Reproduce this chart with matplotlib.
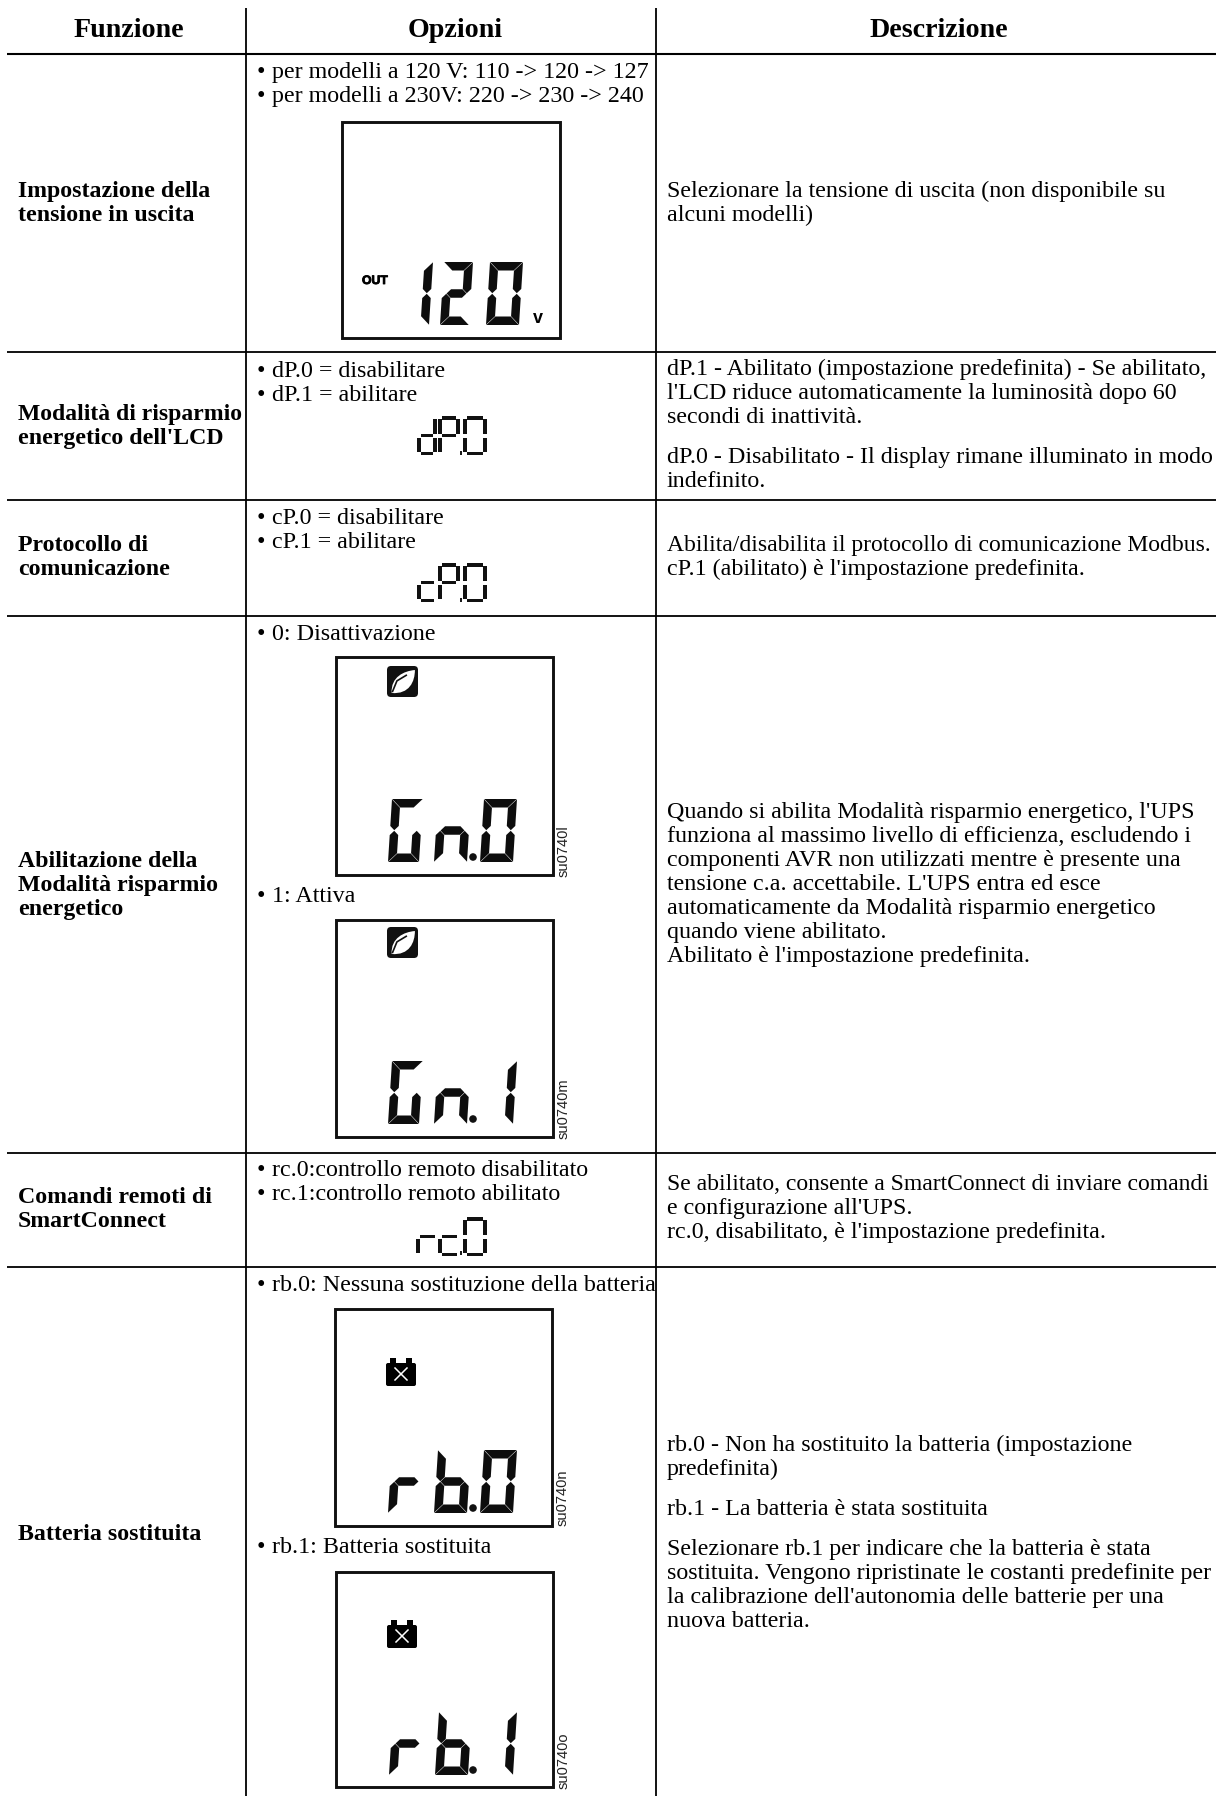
import matplotlib
matplotlib.use('Agg')
import matplotlib.pyplot as plt
import matplotlib.patheffects as pe
from matplotlib.patches import Polygon, Rectangle, FancyBboxPatch, PathPatch, Circle
from matplotlib.path import Path

# Table text
headers = ['Funzione', 'Opzioni', 'Descrizione']
funzione = ['Impostazione della', 'tensione in uscita',
            'Modalità di risparmio', "energetico dell'LCD",
            'Protocollo di', 'comunicazione',
            'Abilitazione della', 'Modalità risparmio', 'energetico',
            'Comandi remoti di', 'SmartConnect',
            'Batteria sostituita']
opzioni = ['per modelli a 120 V: 110 -> 120 -> 127',
           'per modelli a 230V: 220 -> 230 -> 240',
           'dP.0 = disabilitare', 'dP.1 = abilitare',
           'cP.0 = disabilitare', 'cP.1 = abilitare',
           '0: Disattivazione', '1: Attiva',
           'rc.0:controllo remoto disabilitato', 'rc.1:controllo remoto abilitato',
           'rb.0: Nessuna sostituzione della batteria', 'rb.1: Batteria sostituita']
descrizione = ['Selezionare la tensione di uscita (non disponibile su', 'alcuni modelli)',
               'dP.1 - Abilitato (impostazione predefinita) - Se abilitato,',
               "l'LCD riduce automaticamente la luminosità dopo 60",
               'secondi di inattività.',
               'dP.0 - Disabilitato - Il display rimane illuminato in modo',
               'indefinito.',
               'Abilita/disabilita il protocollo di comunicazione Modbus.',
               "cP.1 (abilitato) è l'impostazione predefinita.",
               "Quando si abilita Modalità risparmio energetico, l'UPS",
               'funziona al massimo livello di efficienza, escludendo i',
               'componenti AVR non utilizzati mentre è presente una',
               'tensione c.a. accettabile. L\'UPS entra ed esce',
               'automaticamente da Modalità risparmio energetico',
               'quando viene abilitato.',
               "Abilitato è l'impostazione predefinita.",
               'Se abilitato, consente a SmartConnect di inviare comandi',
               'e configurazione all\'UPS.',
               "rc.0, disabilitato, è l'impostazione predefinita.",
               'rb.0 - Non ha sostituito la batteria (impostazione',
               'predefinita)',
               'rb.1 - La batteria è stata sostituita',
               'Selezionare rb.1 per indicare che la batteria è stata',
               'sostituita. Vengono ripristinate le costanti predefinite per',
               "la calibrazione dell'autonomia delle batterie per una",
               'nuova batteria.']
codes = ['su0740l', 'su0740m', 'su0740n', 'su0740o']

# Baselines of the text, pixels
funzione_y = [197, 221, 420, 444, 551, 575, 867, 891, 915, 1203, 1227, 1540]
opzioni_y = [78, 102, 377, 401, 524, 548, 640, 902, 1176, 1200, 1291, 1553]
descrizione_y = [197, 221, 375, 399, 423, 463, 487, 551, 575, 818, 842, 866, 890, 914, 938, 962,
                 1190, 1214, 1238, 1451, 1475, 1515, 1555, 1579, 1603, 1627]
hlines = [54, 352, 500, 616, 1153, 1267]

W, H = 1223, 1796
fig = plt.figure(figsize=(W/100, H/100), dpi=100)
ax = fig.add_axes([0, 0, 1, 1])
ax.set_xlim(0, W)
ax.set_ylim(H, 0)
ax.axis('off')
FS = 17.25
SERIF = 'Liberation Serif'
# lines that are set a little tighter in the original
narrow = {'Modalità di risparmio': 17.0,
          'Abilita/disabilita il protocollo di comunicazione Modbus.': 17.03,
          'Se abilitato, consente a SmartConnect di inviare comandi': 17.03}

# Seven segment patterns
PATTERN = {'0': 'abcdef', '1': 'bc', '2': 'abged', 'G': 'afedc', 'n': 'gec', 'r': 'eg', 'b': 'fedcg',
           'd': 'bcdeg', 'P': 'abefg', 'c': 'deg'}


def seg_shape(s, w, h, t, g):
    m = h/2
    if s == 'a':
        return [(g, 0), (w-g, 0), (w-t-g, t), (t+g, t)]
    if s == 'd':
        return [(g, h), (w-g, h), (w-t-g, h-t), (t+g, h-t)]
    if s == 'g':
        return [(t/2+g, m), (t+g, m-t/2), (w-t-g, m-t/2), (w-t/2-g, m), (w-t-g, m+t/2), (t+g, m+t/2)]
    if s == 'f':
        return [(0, g), (t, t+g), (t, m-t/2-g), (t/2, m-g), (0, m-t/2-g)]
    if s == 'e':
        return [(0, h-g), (t, h-t-g), (t, m+t/2+g), (t/2, m+g), (0, m+t/2+g)]
    if s == 'b':
        return [(w, g), (w-t, t+g), (w-t, m-t/2-g), (w-t/2, m-g), (w, m-t/2-g)]
    return [(w, h-g), (w-t, h-t-g), (w-t, m+t/2+g), (w-t/2, m+g), (w, m+t/2+g)]


def big_digit(ch, x, y, w=33, h=63, t=8.5, slant=4):
    for s in PATTERN[ch]:
        pts = [(x+px+slant*(h-py)/h, y+py) for px, py in seg_shape(s, w, h, t, 0.3)]
        ax.add_patch(Polygon(pts, closed=True, fc='#0d0d0d', ec='none'))


def small_digit(ch, x, y, w, h=39, t=4):
    m = h/2
    rects = {'a': (t, 0, w-2*t, t-0.5), 'd': (t, h-t+0.5, w-2*t, t-0.5), 'g': (t, m-t/2, w-2*t, t-0.5),
             'f': (0, t-1, t, m-t-1), 'e': (0, m+2, t, m-t-1), 'b': (w-t, t-1, t, m-t-1), 'c': (w-t, m+2, t, m-t-1)}
    for s in PATTERN[ch]:
        rx, ry, rw, rh = rects[s]
        ax.add_patch(Rectangle((x+rx, y+ry), rw, rh, fc='#111111', ec='none'))


def lcd_box(x0, y0, x1, y1):
    ax.add_patch(Rectangle((x0, y0), x1-x0, y1-y0, fc='white', ec='#111111', lw=2.1))


def leaf(x, y, s=31):
    ax.add_patch(FancyBboxPatch((x+3, y+3), s-6, s-6, boxstyle='round,pad=3,rounding_size=4', fc='#111111', ec='none'))
    p = [(0.15, 0.87), (0.12, 0.35), (0.55, 0.16), (0.90, 0.13), (0.90, 0.50), (0.72, 0.92), (0.15, 0.87)]
    v = [(x+a*s, y+b*s) for a, b in p]
    ax.add_patch(PathPatch(Path(v, [Path.MOVETO, Path.CURVE4, Path.CURVE4, Path.CURVE4, Path.CURVE4, Path.CURVE4, Path.CURVE4]),
                           fc='white', ec='none'))
    ax.plot([x+0.18*s, x+0.32*s, x+0.62*s], [y+0.82*s, y+0.48*s, y+0.30*s], color='#111111', lw=1.2)


def battery(x, y):
    ax.add_patch(FancyBboxPatch((x+2, y+6), 28, 21, boxstyle='round,pad=1,rounding_size=2', fc='black', ec='none'))
    ax.add_patch(Rectangle((x+5, y), 6, 6, fc='black', ec='none'))
    ax.add_patch(Rectangle((x+21, y), 6, 6, fc='black', ec='none'))
    ax.plot([x+10, x+22], [y+10, y+22], color='white', lw=1.1)
    ax.plot([x+22, x+10], [y+10, y+22], color='white', lw=1.1)


# Grid
ax.plot([7, 1216], [hlines[0]]*2, color='black', lw=1.5, solid_capstyle='butt')
for yy in hlines[1:]:
    ax.plot([7, 1216], [yy, yy], color='black', lw=1.3, solid_capstyle='butt')
for xx in [246, 656]:
    ax.plot([xx, xx], [8, H], color='black', lw=1.3, solid_capstyle='butt')

# Text
for t, xc in zip(headers, [129, 455, 939]):
    ax.text(xc, 37, t, ha='center', va='baseline', family=SERIF, weight='bold', fontsize=20.2, color='black')
for t, yy in zip(funzione, funzione_y):
    ax.text(18, yy, t, va='baseline', family=SERIF, weight='bold', fontsize=narrow.get(t, 17.2), color='black')
for t, yy in zip(opzioni, opzioni_y):
    ax.text(257, yy, '•', va='baseline', family=SERIF, fontsize=FS, color='black')
    ax.text(272, yy, t, va='baseline', family=SERIF, fontsize=FS, color='black')
for t, yy in zip(descrizione, descrizione_y):
    ax.text(667, yy, t, va='baseline', family=SERIF, fontsize=narrow.get(t, FS), color='black')

# Big displays
lcd_box(342, 122, 559.5, 338)
big_digit('1', 396, 262)
big_digit('2', 440, 262, w=29)
big_digit('0', 486, 262)
ax.text(362, 284, 'OUT', family='Liberation Sans', weight='bold', fontsize=8.8, va='baseline', color='black',
        path_effects=[pe.withStroke(linewidth=0.6, foreground='black')])
ax.text(533, 323, 'v', family='Liberation Sans', weight='bold', fontsize=13, va='baseline', color='black')

lcd_box(336, 657, 553, 875)
leaf(387, 666)
big_digit('G', 388, 799, w=31)
big_digit('n', 434, 799)
big_digit('0', 480, 799)
ax.add_patch(Circle((473, 857), 3.8, fc='#111111', ec='none'))

lcd_box(336, 920, 553, 1137)
leaf(387, 927)
big_digit('G', 388, 1061, w=31)
big_digit('n', 434, 1061)
big_digit('1', 480, 1061)
ax.add_patch(Circle((473, 1119), 3.8, fc='#111111', ec='none'))

lcd_box(335, 1309, 551.5, 1526)
battery(385, 1358)
big_digit('r', 388, 1450)
big_digit('b', 434, 1450)
big_digit('0', 480, 1450)
ax.add_patch(Circle((473, 1508), 3.8, fc='#111111', ec='none'))

lcd_box(336, 1572, 553, 1787)
battery(386, 1620)
big_digit('r', 389, 1712)
big_digit('b', 435, 1712)
big_digit('1', 480, 1712)
ax.add_patch(Circle((473, 1770), 3.8, fc='#111111', ec='none'))

for t, xx, yy in zip(codes, [564, 564, 563, 564], [877, 1139, 1526, 1789]):
    ax.text(xx, yy, t, rotation=90, ha='center', va='bottom', family='Liberation Sans', fontsize=10.5, color='#222222')

# Small displays
small_digit('d', 417, 416, 20)
small_digit('P', 438, 416, 22)
small_digit('0', 463, 416, 23.5)
small_digit('c', 417, 563, 21)
small_digit('P', 438, 563, 22)
small_digit('0', 463, 563, 23.5)
small_digit('r', 416, 1217, 23)
small_digit('c', 438, 1217, 23)
small_digit('0', 463, 1217, 23.5)
for xd, yd in [(460, 454), (460, 601), (460, 1254)]:
    ax.add_patch(Rectangle((xd, yd-3), 1.6, 4, fc='#1a1a1a', ec='none'))

fig.savefig('out.png', dpi=100, facecolor='white')
